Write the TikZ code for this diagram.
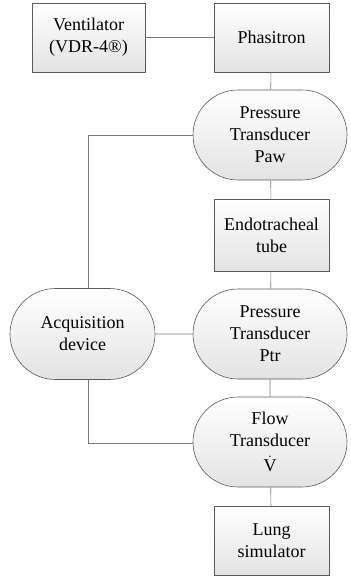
\documentclass[tikz,border=0pt]{standalone}
\usepackage{fontspec}
\setmainfont{Liberation Serif}
\usepackage{tikz}
\usetikzlibrary{shapes.misc}

\definecolor{edge}{HTML}{5A5A5A}
\definecolor{wire}{HTML}{7A7A7A}

\tikzset{
    unit/.style={draw=edge, line width=0.6pt, top color=white, bottom color=black!11,
        align=center, inner sep=2pt, font=\fontsize{18}{22}\selectfont},
    boxunit/.style={unit, rectangle, minimum width=#1, minimum height=69pt},
    sensor/.style={unit, rounded rectangle, minimum width=158pt, minimum height=90pt},
    wireline/.style={draw=wire, line width=0.6pt}
}

\begin{document}
\begin{tikzpicture}[x=1pt, y=-1pt]
    \useasboundingbox (0,0) rectangle (350,577);

    \node[boxunit=113pt] (vent) at (88.5,37.5) {Ventilator\\(VDR-4®)};
    \node[boxunit=115pt] (phas) at (271.5,37.5) {Phasitron};
    \node[sensor] (paw) at (270,135) {Pressure\\Transducer\\Paw};
    \node[boxunit=115pt, minimum height=72pt] (endo) at (271.5,235) {Endotracheal\\tube};
    \node[sensor] (ptr) at (270,334) {Pressure\\Transducer\\Ptr};
    \node[sensor, minimum width=149pt, minimum height=91pt] (acq) at (82.5,334) {Acquisition\\device};
    \node[sensor] (flow) at (270,442) {Flow\\Transducer\\[3pt]$\dot{\mathrm{V}}$};
    \node[boxunit=115pt] (lung) at (271.5,541) {Lung\\simulator};

    \coordinate (top) at (88,135);
    \coordinate (bot) at (88,443);

    % chain down the right column
    \draw[wireline] (vent) -- (phas);
    \draw[wireline] (phas) -- (paw);
    \draw[wireline] (paw) -- (endo);
    \draw[wireline] (endo) -- (ptr);
    \draw[wireline] (ptr) -- (flow);
    \draw[wireline] (flow) -- (lung);

    % signals into the acquisition device
    \draw[wireline] (paw.west) -- (top) -- (top |- acq.north);
    \draw[wireline] (acq) -- (ptr);
    \draw[wireline] (bot |- acq.south) -- (bot) -- (flow.west |- bot);
\end{tikzpicture}
\end{document}
